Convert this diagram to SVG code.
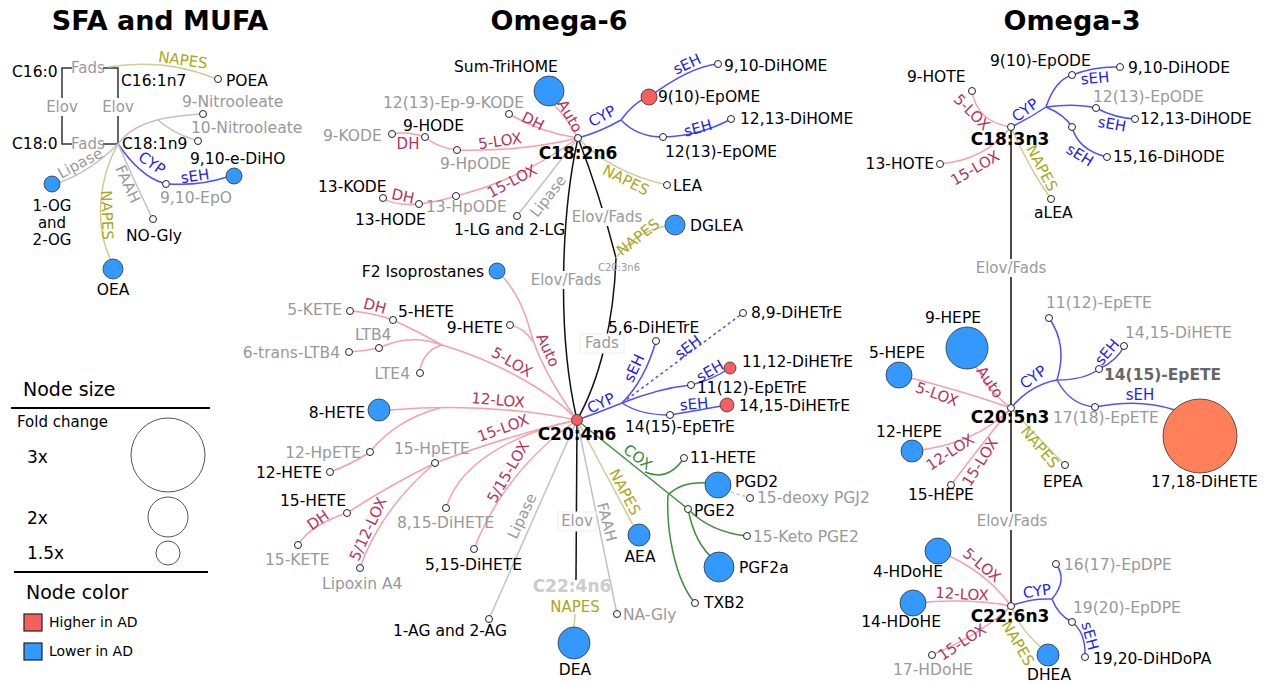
<svg xmlns="http://www.w3.org/2000/svg" width="1267" height="685" viewBox="0 0 1267 685">
<style>
text{font-family:"DejaVu Sans",Verdana,sans-serif;font-size:15.5px;fill:#000}
.ttl{font-size:27px;font-weight:bold;text-anchor:middle}
.g{fill:#999}
.end{text-anchor:end}
.mid{text-anchor:middle}
.hub{font-weight:bold;font-size:17px;text-anchor:middle}
.e{fill:none;stroke-width:1.5}
.pk{stroke:#f5a0ac}
.bl{stroke:#5050ff}
.ol{stroke:#cdcd99}
.gy{stroke:#c2c2c2}
.bk{stroke:#111}
.gn{stroke:#3f8f3f}
.dash{stroke-dasharray:3 3}
.l{text-anchor:middle;font-size:15px}
.lp{fill:#b5345a}
.lb{fill:#1f1fee}
.lo{fill:#a8a820}
.lg{fill:#9a9a9a}
.lgn{fill:#3a8a3a}
.s{fill:#fff;stroke:#222;stroke-width:1}
.b{fill:#3399ff;stroke:#333;stroke-width:0.8}
.r{fill:#f55f5f;stroke:#333;stroke-width:0.8}
.bgr{fill:#fff}
.box{fill:#fff;stroke:#eee;stroke-width:1}
.lc{fill:none;stroke:#555;stroke-width:1}
</style>
<rect width="1267" height="685" fill="#fff"/>
<g id="titles">
<text class="ttl" x="160" y="30">SFA and MUFA</text>
<text class="ttl" x="559" y="30">Omega-6</text>
<text class="ttl" x="1072" y="30">Omega-3</text>
</g>
<g id="connectors">
<!-- SFA -->
<path class="e bk" style="stroke:#333" d="M72 68H62V144H72M103 68H118V144H103"/>
<path class="e ol" d="M108 67Q165 58 214 78"/>
<path class="e gy" d="M118 144C130 127 152 117 200 114"/>
<path class="e gy" d="M157 119Q172 133 195 140"/>
<path class="e bl" d="M118 144Q140 176 163 183"/>
<path class="e bl" d="M169 184Q200 186 227 177"/>
<path class="e gy" d="M118 144Q90 172 58 183"/>
<path class="e ol" d="M118 144C100 175 93 225 111 260"/>
<path class="e gy" d="M118 144Q134 180 151 216"/>
<!-- Omega-6 C18:2n6 -->
<path class="e pk" d="M578 138Q566 116 553 104"/>
<path class="e pk" d="M509 114Q542 133 578 138"/>
<path class="e pk" d="M578 138Q520 152 457 150"/>
<path class="e pk" d="M457 150Q438 148 425 137"/>
<path class="e pk" d="M425 137Q408 131 392 134"/>
<path class="e pk" d="M578 138Q520 180 456 196"/>
<path class="e pk" d="M456 196Q437 202 419 204"/>
<path class="e pk" d="M419 204Q394 206 383 198"/>
<path class="e gy" d="M578 138Q545 180 517 216"/>
<path class="e bl" d="M578 138Q600 132 621 120"/>
<path class="e bl" d="M621 120C630 108 638 100 649 97"/>
<path class="e bl" d="M649 97C672 80 696 66 718 64"/>
<path class="e bl" d="M621 120Q637 137 663 137"/>
<path class="e bl" d="M663 137Q700 136 731 119"/>
<path class="e ol" d="M578 138Q610 172 667 185"/>
<path class="e bk" d="M578 138C562 210 556 330 577 420"/>
<path class="e bk" d="M578 138Q600 195 616 258C614 320 600 380 577 420"/>
<path class="e ol" d="M616 258Q635 232 666 226"/>
<!-- Omega-6 C20:4n6 -->
<path class="e pk" d="M497 271Q520 292 530 330Q540 368 577 420"/>
<path class="e pk" d="M510 325Q525 328 533 342"/>
<path class="e pk" d="M577 420C555 395 500 362 442 345Q415 330 393 320"/>
<path class="e pk" d="M393 320Q370 312 350 311"/>
<path class="e pk" d="M442 345Q410 333 379 348Q365 351 349 352"/>
<path class="e pk" d="M442 345Q424 350 420 370"/>
<path class="e pk" d="M577 420Q490 402 390 410"/>
<path class="e pk" d="M440 408Q395 420 370 452"/>
<path class="e pk" d="M370 452Q350 465 330 472"/>
<path class="e pk" d="M577 420Q510 435 435 463"/>
<path class="e pk" d="M435 463Q390 485 347 513"/>
<path class="e pk" d="M347 513Q310 525 298 545"/>
<path class="e pk" d="M435 463Q380 510 360 568"/>
<path class="e pk" d="M577 420C530 430 462 455 446 508"/>
<path class="e pk" d="M577 420Q505 470 474 549"/>
<path class="e gy" d="M577 420L489 619"/>
<path class="e bk" d="M577 420L576 580"/>
<path class="e ol" d="M575 614L574 628"/>
<path class="e gy" d="M577 420L617 614"/>
<path class="e ol" d="M577 420L633 525"/>
<path class="e gn" d="M577 420L688 509"/>
<path class="e gn" d="M645 472Q668 482 684 458"/>
<path class="e gn" d="M668 495Q682 481 708 483"/>
<path class="e gn" d="M668 495C666 530 675 580 695 603"/>
<path class="e gy dash" d="M731 492L747 497"/>
<path class="e gn" d="M688 509Q710 532 747 536"/>
<path class="e gn" d="M688 509Q695 545 715 560"/>
<path class="e bl" d="M577 420Q600 412 622 403"/>
<path class="e bl" d="M622 403Q645 380 656 341"/>
<path class="e bl dash" d="M622 403L743 313"/>
<path class="e bl" d="M622 403Q660 388 691 385"/>
<path class="e bl" d="M691 385Q712 380 730 368"/>
<path class="e bl" d="M622 403Q640 415 670 415"/>
<path class="e bl" d="M670 415Q700 410 727 405"/>
<!-- Omega-3 -->
<path class="e bk" d="M1011 127V606"/>
<path class="e pk" d="M972 91Q977 122 1011 127"/>
<path class="e pk" d="M940 164Q985 160 1011 127"/>
<path class="e bl" d="M1011 127Q1030 118 1046 107"/>
<path class="e bl" d="M1046 107Q1055 80 1072 75"/>
<path class="e bl" d="M1072 75Q1095 66 1120 67"/>
<path class="e bl" d="M1046 107Q1075 103 1096 108"/>
<path class="e bl" d="M1096 108Q1115 118 1135 119"/>
<path class="e bl" d="M1046 107Q1065 115 1072 127"/>
<path class="e bl" d="M1072 127Q1078 150 1107 157"/>
<path class="e ol" d="M1011 127Q1030 170 1051 199"/>
<path class="e pk" d="M967 348Q985 390 1011 408"/>
<path class="e pk" d="M899 375Q960 390 1011 408"/>
<path class="e pk" d="M912 451Q975 445 1011 408"/>
<path class="e pk" d="M951 485Q985 440 1011 408"/>
<path class="e bl" d="M1011 408Q1030 385 1057 380"/>
<path class="e bl" d="M1049 318Q1068 345 1057 380"/>
<path class="e bl" d="M1057 380Q1085 380 1099 369"/>
<path class="e bl" d="M1099 369Q1118 360 1124 346"/>
<path class="e bl" d="M1057 380Q1070 405 1095 407"/>
<path class="e bl" d="M1095 407Q1140 398 1175 410"/>
<path class="e ol" d="M1011 408Q1040 440 1065 465"/>
<path class="e pk" d="M938 551Q985 570 1011 606"/>
<path class="e pk" d="M913 603Q970 598 1011 606"/>
<path class="e pk" d="M932 655Q980 635 1011 606"/>
<path class="e bl" d="M1011 606Q1030 598 1052 599"/>
<path class="e bl" d="M1052 599Q1068 580 1056 564"/>
<path class="e bl" d="M1052 599Q1058 615 1072 622"/>
<path class="e bl" d="M1072 622Q1085 632 1085 653"/>
<path class="e ol" d="M1011 606Q1020 630 1042 648"/>
</g>
<g id="edge-labels">
<text class="l lo" transform="translate(183 60) rotate(8)" dy=".35em">NAPES</text>
<text class="l lg" x="88" y="68" dy=".35em">Fads</text>
<text class="l lg" x="88" y="144" dy=".35em">Fads</text>
<rect class="bgr" x="45" y="98" width="34" height="18"/>
<text class="l lg" x="62" y="107" dy=".35em">Elov</text>
<rect class="bgr" x="101" y="98" width="34" height="18"/>
<text class="l lg" x="118" y="107" dy=".35em">Elov</text>
<text class="l lb" transform="translate(152 163) rotate(35)" dy=".35em">CYP</text>
<text class="l lb" transform="translate(195 176) rotate(-8)" dy=".35em">sEH</text>
<text class="l lg" transform="translate(80 163) rotate(-28)" dy=".35em">Lipase</text>
<text class="l lo" transform="translate(107 215) rotate(88)" dy=".35em">NAPES</text>
<text class="l lg" transform="translate(128 184) rotate(65)" dy=".35em">FAAH</text>

<text class="l lp" transform="translate(570 116) rotate(60)" dy=".35em">Auto</text>
<text class="l lp" transform="translate(533 121) rotate(27)" dy=".35em">DH</text>
<text class="l lp" transform="translate(500 141) rotate(-8)" dy=".35em">5-LOX</text>
<text class="l lp" x="408" y="144" dy=".35em">DH</text>
<text class="l lp" transform="translate(512 181) rotate(-28)" dy=".35em">15-LOX</text>
<text class="l lp" transform="translate(403 196) rotate(12)" dy=".35em">DH</text>
<text class="l lg" transform="translate(548 196) rotate(-52)" dy=".35em">Lipase</text>
<text class="l lb" transform="translate(602 116) rotate(-28)" dy=".35em">CYP</text>
<text class="l lb" transform="translate(687 64) rotate(-25)" dy=".35em">sEH</text>
<text class="l lb" transform="translate(698 128) rotate(-15)" dy=".35em">sEH</text>
<text class="l lo" transform="translate(626 180) rotate(27)" dy=".35em">NAPES</text>
<rect class="bgr" x="570" y="208" width="74" height="18"/>
<text class="l lg" x="607" y="217" dy=".35em">Elov/Fads</text>
<rect class="bgr" x="529" y="271" width="74" height="18"/>
<text class="l lg" x="566" y="280" dy=".35em">Elov/Fads</text>
<text class="l lg" x="619" y="267" dy=".35em" style="font-size:10px">C20:3n6</text>
<text class="l lo" transform="translate(638 237) rotate(-38)" dy=".35em">NAPES</text>
<rect class="box" x="580" y="334" width="44" height="19"/>
<text class="l lg" x="602" y="343" dy=".35em">Fads</text>
<text class="l lp" transform="translate(548 350) rotate(65)" dy=".35em">Auto</text>
<text class="l lp" transform="translate(512 362) rotate(30)" dy=".35em">5-LOX</text>
<text class="l lp" transform="translate(375 306) rotate(15)" dy=".35em">DH</text>
<text class="l lp" transform="translate(498 400) rotate(5)" dy=".35em">12-LOX</text>
<text class="l lp" transform="translate(503 428) rotate(-20)" dy=".35em">15-LOX</text>
<text class="l lp" transform="translate(508 472) rotate(-60)" dy=".35em">5/15-LOX</text>
<text class="l lp" transform="translate(318 520) rotate(-35)" dy=".35em">DH</text>
<text class="l lp" transform="translate(368 529) rotate(-65)" dy=".35em">5/12-LOX</text>
<text class="l lg" transform="translate(522 516) rotate(-65)" dy=".35em">Lipase</text>
<text class="l lg" transform="translate(607 522) rotate(75)" dy=".35em">FAAH</text>
<text class="l lo" transform="translate(625 492) rotate(62)" dy=".35em">NAPES</text>
<text class="l lgn" transform="translate(638 457) rotate(38)" dy=".35em">COX</text>
<rect class="box" x="558" y="512" width="38" height="19"/>
<text class="l lg" x="577" y="521" dy=".35em">Elov</text>
<text class="l lo" x="575" y="607" dy=".35em">NAPES</text>
<text class="l lb" transform="translate(601 403) rotate(-25)" dy=".35em">CYP</text>
<text class="l lb" transform="translate(634 368) rotate(-65)" dy=".35em">sEH</text>
<text class="l lb" transform="translate(688 347) rotate(-37)" dy=".35em">sEH</text>
<text class="l lb" transform="translate(710 371) rotate(-30)" dy=".35em">sEH</text>
<text class="l lb" transform="translate(694 404) rotate(-5)" dy=".35em">sEH</text>

<text class="l lp" transform="translate(972 112) rotate(45)" dy=".35em">5-LOX</text>
<text class="l lp" transform="translate(975 168) rotate(-30)" dy=".35em">15-LOX</text>
<text class="l lb" transform="translate(1025 110) rotate(-35)" dy=".35em">CYP</text>
<text class="l lb" transform="translate(1095 78) rotate(-5)" dy=".35em">sEH</text>
<text class="l lb" transform="translate(1112 124) rotate(10)" dy=".35em">sEH</text>
<text class="l lb" transform="translate(1080 155) rotate(32)" dy=".35em">sEH</text>
<text class="l lo" transform="translate(1042 168) rotate(62)" dy=".35em">NAPES</text>
<rect class="bgr" x="974" y="259" width="74" height="18"/>
<text class="l lg" x="1011" y="268" dy=".35em">Elov/Fads</text>
<text class="l lp" transform="translate(990 382) rotate(55)" dy=".35em">Auto</text>
<text class="l lp" transform="translate(937 394) rotate(20)" dy=".35em">5-LOX</text>
<text class="l lp" transform="translate(950 452) rotate(-33)" dy=".35em">12-LOX</text>
<text class="l lp" transform="translate(980 462) rotate(-58)" dy=".35em">15-LOX</text>
<text class="l lb" transform="translate(1033 377) rotate(-35)" dy=".35em">CYP</text>
<text class="l lb" transform="translate(1107 352) rotate(-50)" dy=".35em">sEH</text>
<text class="l lb" x="1140" y="395" dy=".35em">sEH</text>
<text class="l lo" transform="translate(1040 447) rotate(50)" dy=".35em">NAPES</text>
<rect class="bgr" x="975" y="512" width="74" height="18"/>
<text class="l lg" x="1012" y="521" dy=".35em">Elov/Fads</text>
<text class="l lp" transform="translate(982 565) rotate(40)" dy=".35em">5-LOX</text>
<text class="l lp" transform="translate(962 594) rotate(3)" dy=".35em">12-LOX</text>
<text class="l lp" transform="translate(962 642) rotate(-33)" dy=".35em">15-LOX</text>
<text class="l lb" transform="translate(1037 591) rotate(-8)" dy=".35em">CYP</text>
<text class="l lb" transform="translate(1090 636) rotate(75)" dy=".35em">sEH</text>
<text class="l lo" transform="translate(1018 643) rotate(60)" dy=".35em">NAPES</text>
</g>

<!-- SFA nodes -->
<g id="n-c160"><text x="12" y="77">C16:0</text></g>
<g id="n-c180"><text x="12" y="149">C18:0</text></g>
<g id="n-c161"><text x="121" y="86">C16:1n7</text></g>
<g id="n-c181"><text x="122" y="149">C18:1n9</text></g>
<g id="n-poea"><circle class="s" cx="218" cy="79" r="3.5"/><text x="226" y="86">POEA</text></g>
<g id="n-9nitro"><circle class="s" cx="203" cy="114" r="3.5"/><text class="g" x="182" y="107">9-Nitrooleate</text></g>
<g id="n-10nitro"><circle class="s" cx="198" cy="141" r="3.5"/><text class="g" x="191" y="133">10-Nitrooleate</text></g>
<g id="n-910epo"><circle class="s" cx="166" cy="184" r="3.5"/><text class="g" x="160" y="203">9,10-EpO</text></g>
<g id="n-910edho"><circle class="b" cx="234" cy="176" r="8"/><text x="190" y="164">9,10-e-DiHO</text></g>
<g id="n-og"><circle class="b" cx="52" cy="184" r="8"/><text class="mid" x="52" y="211" style="font-size:15px">1-OG</text><text class="mid" x="52" y="228" style="font-size:15px">and</text><text class="mid" x="52" y="245" style="font-size:15px">2-OG</text></g>
<g id="n-oea"><circle class="b" cx="113" cy="269" r="10"/><text class="mid" x="113" y="295">OEA</text></g>
<g id="n-nogly"><circle class="s" cx="153" cy="219" r="3.5"/><text x="126" y="241">NO-Gly</text></g>

<!-- Omega-6 nodes -->
<g id="n-c182n6"><circle class="s" cx="578" cy="138" r="3.5"/><text class="hub" x="578" y="159">C18:2n6</text></g>
<g id="n-c204n6"><circle class="r" cx="577" cy="420" r="5.5"/><text class="hub" x="577" y="440">C20:4n6</text></g>
<g id="n-c224n6"><text class="hub" x="572" y="592" style="fill:#cccccc">C22:4n6</text></g>
<g id="n-sumtrihome"><circle class="b" cx="549" cy="91" r="15"/><text x="454" y="72">Sum-TriHOME</text></g>
<g id="n-1213ep9kode"><circle class="s" cx="509" cy="114" r="3.5"/><text class="g" x="383" y="108">12(13)-Ep-9-KODE</text></g>
<g id="n-9kode"><circle class="s" cx="392" cy="134" r="3.5"/><text class="g" x="323" y="141">9-KODE</text></g>
<g id="n-9hode"><circle class="s" cx="425" cy="137" r="3.5"/><text x="403" y="131">9-HODE</text></g>
<g id="n-9hpode"><circle class="s" cx="457" cy="150" r="3.5"/><text class="g" x="440" y="169">9-HpODE</text></g>
<g id="n-13kode"><circle class="s" cx="383" cy="198" r="3.5"/><text x="318" y="192">13-KODE</text></g>
<g id="n-13hode"><circle class="s" cx="419" cy="204" r="3.5"/><text x="355" y="225">13-HODE</text></g>
<g id="n-13hpode"><circle class="s" cx="456" cy="196" r="3.5"/><text class="g" x="426" y="212">13-HpODE</text></g>
<g id="n-1lg"><circle class="s" cx="517" cy="216" r="3.5"/><text x="454" y="235">1-LG and 2-LG</text></g>
<g id="n-910epome"><circle class="r" cx="649" cy="97" r="8"/><text x="658" y="102">9(10)-EpOME</text></g>
<g id="n-910dihome"><circle class="s" cx="718" cy="64" r="3.5"/><text x="724" y="71">9,10-DiHOME</text></g>
<g id="n-1213epome"><circle class="s" cx="663" cy="137" r="3.5"/><text x="665" y="157">12(13)-EpOME</text></g>
<g id="n-1213dihome"><circle class="s" cx="731" cy="119" r="3.5"/><text x="740" y="124">12,13-DiHOME</text></g>
<g id="n-lea"><circle class="s" cx="667" cy="185" r="3.5"/><text x="673" y="191">LEA</text></g>
<g id="n-dglea"><circle class="b" cx="675" cy="225" r="10"/><text x="690" y="231">DGLEA</text></g>
<g id="n-f2iso"><circle class="b" cx="497" cy="271" r="8"/><text class="end" x="484" y="277">F2 Isoprostanes</text></g>
<g id="n-5kete"><circle class="s" cx="350" cy="311" r="3.5"/><text class="g end" x="342" y="315">5-KETE</text></g>
<g id="n-5hete"><circle class="s" cx="393" cy="320" r="3.5"/><text x="398" y="317">5-HETE</text></g>
<g id="n-9hete"><circle class="s" cx="510" cy="325" r="3.5"/><text class="end" x="503" y="333">9-HETE</text></g>
<g id="n-ltb4"><circle class="s" cx="379" cy="348" r="3.5"/><text class="g" x="355" y="340">LTB4</text></g>
<g id="n-6tltb4"><circle class="s" cx="349" cy="352" r="3.5"/><text class="g end" x="340" y="358">6-trans-LTB4</text></g>
<g id="n-lte4"><circle class="s" cx="420" cy="373" r="3.5"/><text class="g end" x="410" y="379">LTE4</text></g>
<g id="n-8hete"><circle class="b" cx="379" cy="410" r="11"/><text class="end" x="365" y="418">8-HETE</text></g>
<g id="n-12hpete"><circle class="s" cx="370" cy="452" r="3.5"/><text class="g end" x="361" y="458">12-HpETE</text></g>
<g id="n-12hete"><circle class="s" cx="330" cy="472" r="3.5"/><text class="end" x="322" y="478">12-HETE</text></g>
<g id="n-15hpete"><circle class="s" cx="435" cy="463" r="3.5"/><text class="g" x="394" y="454">15-HpETE</text></g>
<g id="n-15hete"><circle class="s" cx="347" cy="513" r="3.5"/><text x="280" y="506">15-HETE</text></g>
<g id="n-15kete"><circle class="s" cx="298" cy="545" r="3.5"/><text class="g" x="265" y="565">15-KETE</text></g>
<g id="n-lipoxin"><circle class="s" cx="360" cy="568" r="3.5"/><text class="g" x="322" y="589">Lipoxin A4</text></g>
<g id="n-815dihete"><circle class="s" cx="446" cy="508" r="3.5"/><text class="g" x="397" y="528">8,15-DiHETE</text></g>
<g id="n-515dihete"><circle class="s" cx="474" cy="549" r="3.5"/><text x="425" y="570">5,15-DiHETE</text></g>
<g id="n-1ag"><circle class="s" cx="489" cy="619" r="3.5"/><text x="393" y="636">1-AG and 2-AG</text></g>
<g id="n-dea"><circle class="b" cx="574" cy="643" r="16"/><text class="mid" x="575" y="675">DEA</text></g>
<g id="n-nagly"><circle class="s" cx="617" cy="614" r="3.5"/><text class="g" x="623" y="620">NA-Gly</text></g>
<g id="n-aea"><circle class="b" cx="639" cy="535" r="11"/><text class="mid" x="640" y="562">AEA</text></g>
<g id="n-11hete"><circle class="s" cx="684" cy="458" r="3.5"/><text x="690" y="463">11-HETE</text></g>
<g id="n-pgd2"><circle class="b" cx="718" cy="485" r="13"/><text x="735" y="487">PGD2</text></g>
<g id="n-pgj2"><circle class="s" cx="750" cy="498" r="3.5"/><text class="g" x="757" y="503">15-deoxy PGJ2</text></g>
<g id="n-pge2"><circle class="s" cx="688" cy="509" r="3.5"/><text x="694" y="516">PGE2</text></g>
<g id="n-15ketopge2"><circle class="s" cx="747" cy="536" r="3.5"/><text class="g" x="753" y="542">15-Keto PGE2</text></g>
<g id="n-pgf2a"><circle class="b" cx="719" cy="567" r="15"/><text x="739" y="573">PGF2a</text></g>
<g id="n-txb2"><circle class="s" cx="695" cy="603" r="3.5"/><text x="704" y="608">TXB2</text></g>
<g id="n-56dihetre"><circle class="s" cx="656" cy="341" r="3.5"/><text x="608" y="333">5,6-DiHETrE</text></g>
<g id="n-89dihetre"><circle class="s" cx="743" cy="313" r="3.5"/><text x="751" y="318">8,9-DiHETrE</text></g>
<g id="n-1112epetre"><circle class="s" cx="691" cy="385" r="3.5"/><text x="697" y="393">11(12)-EpETrE</text></g>
<g id="n-1112dihetre"><circle class="r" cx="730" cy="368" r="6"/><text x="742" y="367">11,12-DiHETrE</text></g>
<g id="n-1415epetre"><circle class="s" cx="670" cy="415" r="3.5"/><text x="625" y="432">14(15)-EpETrE</text></g>
<g id="n-1415dihetre"><circle class="r" cx="727" cy="405" r="7"/><text x="739" y="411">14,15-DiHETrE</text></g>

<!-- Omega-3 nodes -->
<g id="n-c183n3"><circle class="s" cx="1011" cy="127" r="3.5"/><text class="hub" x="1010" y="145">C18:3n3</text></g>
<g id="n-c205n3"><circle class="s" cx="1011" cy="408" r="3.5"/><text class="hub" x="1010" y="423">C20:5n3</text></g>
<g id="n-c226n3"><circle class="s" cx="1011" cy="606" r="3.5"/><text class="hub" x="1010" y="622">C22:6n3</text></g>
<g id="n-9hote"><circle class="s" cx="972" cy="91" r="3.5"/><text x="907" y="82">9-HOTE</text></g>
<g id="n-13hote"><circle class="s" cx="940" cy="164" r="3.5"/><text class="end" x="934" y="169">13-HOTE</text></g>
<g id="n-910epode"><circle class="s" cx="1072" cy="75" r="3.5"/><text x="990" y="66">9(10)-EpODE</text></g>
<g id="n-910dihode"><circle class="s" cx="1120" cy="67" r="3.5"/><text x="1128" y="73">9,10-DiHODE</text></g>
<g id="n-1213epode"><circle class="s" cx="1096" cy="108" r="3.5"/><text class="g" x="1093" y="102">12(13)-EpODE</text></g>
<g id="n-1213dihode"><circle class="s" cx="1135" cy="119" r="3.5"/><text x="1140" y="124">12,13-DiHODE</text></g>
<g id="n-1516epode"><circle class="s" cx="1072" cy="127" r="3.5"/></g>
<g id="n-1516dihode"><circle class="s" cx="1107" cy="157" r="3.5"/><text x="1113" y="162">15,16-DiHODE</text></g>
<g id="n-alea"><circle class="s" cx="1051" cy="199" r="3.5"/><text x="1034" y="218">aLEA</text></g>
<g id="n-9hepe"><circle class="b" cx="967" cy="348" r="21"/><text x="925" y="323">9-HEPE</text></g>
<g id="n-5hepe"><circle class="b" cx="899" cy="375" r="13"/><text class="end" x="925" y="358">5-HEPE</text></g>
<g id="n-12hepe"><circle class="b" cx="912" cy="451" r="11"/><text class="end" x="942" y="437">12-HEPE</text></g>
<g id="n-15hepe"><circle class="s" cx="951" cy="485" r="3.5"/><text x="908" y="500">15-HEPE</text></g>
<g id="n-1112epete"><circle class="s" cx="1049" cy="318" r="3.5"/><text class="g" x="1046" y="308">11(12)-EpETE</text></g>
<g id="n-1415epete"><circle class="s" cx="1099" cy="369" r="3.5"/><text x="1104" y="380" style="fill:#666;font-weight:bold">14(15)-EpETE</text></g>
<g id="n-1415dihete"><circle class="s" cx="1124" cy="346" r="3.5"/><text class="g" x="1125" y="338">14,15-DiHETE</text></g>
<g id="n-1718epete"><circle class="s" cx="1095" cy="407" r="3.5"/><text class="g" x="1053" y="423">17(18)-EpETE</text></g>
<g id="n-1718dihete"><circle cx="1200" cy="436" r="37" fill="#ff7f5a" stroke="#333" stroke-width="0.8"/><text x="1151" y="487">17,18-DiHETE</text></g>
<g id="n-epea"><circle class="s" cx="1065" cy="465" r="3.5"/><text x="1043" y="487">EPEA</text></g>
<g id="n-4hdohe"><circle class="b" cx="938" cy="551" r="13"/><text class="end" x="943" y="577">4-HDoHE</text></g>
<g id="n-14hdohe"><circle class="b" cx="913" cy="603" r="13"/><text class="end" x="941" y="627">14-HDoHE</text></g>
<g id="n-17hdohe"><circle class="s" cx="932" cy="655" r="3.5"/><text class="g" x="893" y="675">17-HDoHE</text></g>
<g id="n-1617epdpe"><circle class="s" cx="1056" cy="564" r="3.5"/><text class="g" x="1064" y="570">16(17)-EpDPE</text></g>
<g id="n-1920epdpe"><circle class="s" cx="1072" cy="622" r="3.5"/><text class="g" x="1073" y="613">19(20)-EpDPE</text></g>
<g id="n-1920dihdopa"><circle class="s" cx="1085" cy="657" r="3.5"/><text x="1093" y="664">19,20-DiHDoPA</text></g>
<g id="n-dhea"><circle class="b" cx="1048" cy="655" r="11"/><text class="mid" x="1049" y="680">DHEA</text></g>

<g id="legend">
<text x="23" y="396" style="font-size:19px">Node size</text>
<line x1="11" y1="408" x2="210" y2="408" stroke="#000" stroke-width="2"/>
<text x="17" y="427" style="font-size:15px">Fold change</text>
<text x="27" y="463" style="font-size:17px">3x</text>
<circle class="lc" cx="168" cy="455" r="37"/>
<text x="27" y="524" style="font-size:17px">2x</text>
<circle class="lc" cx="168" cy="517" r="20"/>
<text x="27" y="559" style="font-size:17px">1.5x</text>
<circle class="lc" cx="168" cy="553" r="12"/>
<line x1="14" y1="572" x2="208" y2="572" stroke="#000" stroke-width="2"/>
<text x="26" y="599" style="font-size:19px">Node color</text>
<rect x="24" y="614" width="18" height="17" fill="#f55f5f" stroke="#222" stroke-width="1.2"/>
<text x="49" y="627" style="font-size:14px">Higher in AD</text>
<rect x="24" y="643" width="18" height="17" fill="#3399ff" stroke="#222" stroke-width="1.2"/>
<text x="49" y="656" style="font-size:14px">Lower in AD</text>
</g>
</svg>
